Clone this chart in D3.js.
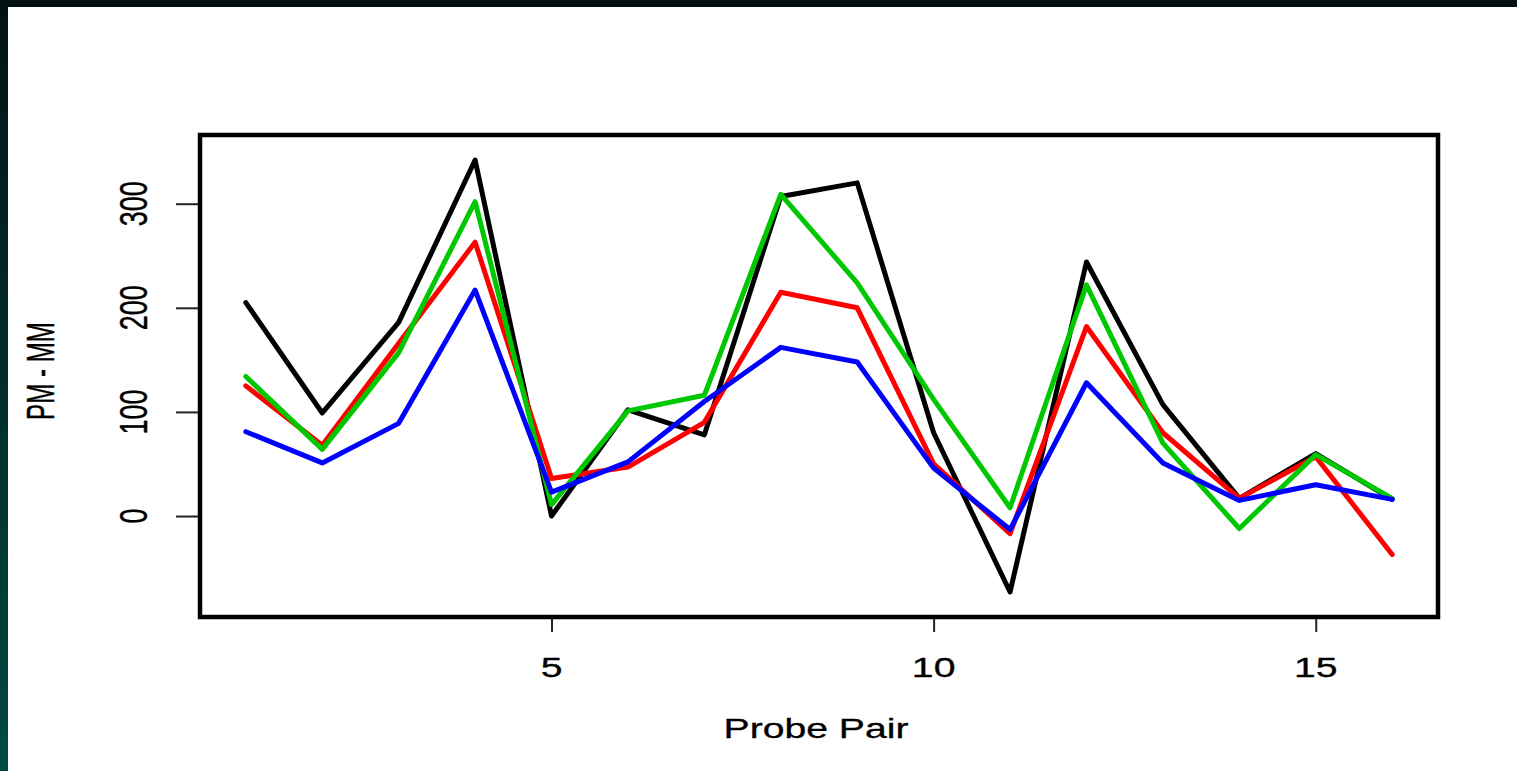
<!DOCTYPE html>
<html>
<head>
<meta charset="utf-8">
<script src="https://cdn.jsdelivr.net/npm/d3@7"></script>
<style>
  html, body { margin: 0; padding: 0; background: #fff; overflow: hidden; }
  svg { display: block; }
</style>
</head>
<body>
<svg id="chart"></svg>
<script>
// probe pairs 1..16, PM - MM per array
const probes = d3.range(1, 17);
const blackVals = [205, 99, 186, 342, 0, 102, 78, 307, 320, 80, -73, 244, 107, 17, 60, 16];
const redVals = [125, 68, 166, 263, 36, 47, 90, 215, 200, 50, -17, 182, 80, 17, 57, -37];
const greenVals = [134, 64, 157, 302, 11, 101, 116, 309, 224, 112, 8, 222, 70, -12, 59, 17];
const blueVals = [81, 51, 89, 217, 23, 52, 110, 162, 148, 46, -13, 128, 51, 15, 30, 16];
const xTicks = [5, 10, 15];
const yTicks = [0, 100, 200, 300];

const seriesList = [
  { values: blackVals, color: "#000000" },
  { values: redVals, color: "#ff0000" },
  { values: greenVals, color: "#00c800" },
  { values: blueVals, color: "#0000ff" },
];

const width = 1517;
const height = 771;
const margin = { top: 135, right: 79, bottom: 154, left: 200 };
const sx = 1.45; // the picture is stretched sideways, text too

const svg = d3.select("#chart").attr("width", width).attr("height", height);

// dark frame at top and left
const grad = svg.append("defs").append("linearGradient")
  .attr("id", "edge").attr("x1", 0).attr("y1", 0).attr("x2", 0).attr("y2", 1);
grad.append("stop").attr("offset", "0%").attr("stop-color", "#031212");
grad.append("stop").attr("offset", "100%").attr("stop-color", "#004a42");

svg.append("rect").attr("width", width).attr("height", height).attr("fill", "#fff");
svg.append("rect").attr("width", 8).attr("height", height).attr("fill", "url(#edge)");
svg.append("rect").attr("width", width).attr("height", 7).attr("fill", "#031112");

const xScale = d3.scaleLinear()
  .domain([0.4, 16.6])
  .range([margin.left, width - margin.right]);

const yScale = d3.scaleLinear()
  .domain([-97, 366])
  .range([height - margin.bottom, margin.top]);

// tick marks
svg.append("g")
  .attr("transform", `translate(0, ${height - margin.bottom})`)
  .call(d3.axisBottom(xScale).tickValues(xTicks).tickSize(15).tickFormat(""))
  .call((g) => g.select(".domain").remove())
  .call((g) => g.selectAll("line").attr("stroke", "#222").attr("stroke-width", 2));

svg.append("g")
  .attr("transform", `translate(${margin.left}, 0)`)
  .call(d3.axisLeft(yScale).tickValues(yTicks).tickSize(24).tickFormat(""))
  .call((g) => g.select(".domain").remove())
  .call((g) => g.selectAll("line").attr("stroke", "#222").attr("stroke-width", 2));

const font = "'Liberation Sans', Arial, sans-serif";

// x tick labels
svg.append("g")
  .selectAll("text")
  .data(xTicks)
  .join("text")
  .attr("transform", (d) => `translate(${xScale(d)}, 677) scale(${sx}, 1)`)
  .attr("text-anchor", "middle")
  .style("font-family", font)
  .style("font-size", "27px")
  .attr("fill", "#000")
  .attr("stroke", "#000")
  .attr("stroke-width", 0.3)
  .text((d) => d);

// y tick labels (rotated)
svg.append("g")
  .selectAll("text")
  .data(yTicks)
  .join("text")
  .attr("transform", (d) => `translate(134, ${yScale(d)}) rotate(-90) scale(1, ${sx})`)
  .attr("text-anchor", "middle")
  .attr("dominant-baseline", "central")
  .style("font-family", font)
  .style("font-size", "27px")
  .attr("fill", "#000")
  .attr("stroke", "#000")
  .attr("stroke-width", 0.3)
  .text((d) => d);

// axis titles
svg.append("text")
  .attr("transform", `translate(816, 738) scale(${sx}, 1)`)
  .attr("text-anchor", "middle")
  .style("font-family", font)
  .style("font-size", "27px")
  .attr("stroke", "#000")
  .attr("stroke-width", 0.3)
  .text("Probe Pair");

svg.append("text")
  .attr("transform", `translate(41, 371) rotate(-90) scale(1, ${sx})`)
  .attr("text-anchor", "middle")
  .attr("dominant-baseline", "central")
  .attr("textLength", 98)
  .attr("lengthAdjust", "spacingAndGlyphs")
  .style("font-family", font)
  .style("font-size", "27px")
  .attr("stroke", "#000")
  .attr("stroke-width", 0.3)
  .text("PM - MM");

// lines
const line = d3.line()
  .x((d, i) => xScale(probes[i]))
  .y((d) => yScale(d));

svg.append("g")
  .selectAll("path")
  .data(seriesList)
  .join("path")
  .attr("fill", "none")
  .attr("stroke", (d) => d.color)
  .attr("stroke-width", 5)
  .attr("stroke-linejoin", "round")
  .attr("stroke-linecap", "round")
  .attr("d", (d) => line(d.values));

// plot box
svg.append("rect")
  .attr("x", margin.left)
  .attr("y", margin.top)
  .attr("width", width - margin.left - margin.right)
  .attr("height", height - margin.top - margin.bottom)
  .attr("fill", "none")
  .attr("stroke", "#000")
  .attr("stroke-width", 4.5);
</script>
</body>
</html>
